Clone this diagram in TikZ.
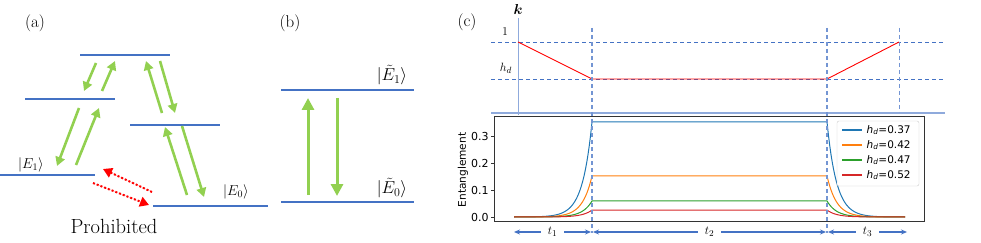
\documentclass[tikz,border=0pt]{standalone}
\usepackage{amsmath,amssymb}
\usepackage{fontspec}
\newfontfamily\plotfont{DejaVu Sans}
\usetikzlibrary{arrows.meta,positioning}
\definecolor{lvlblue}{RGB}{68,114,196}
\definecolor{paleblue}{RGB}{143,170,220}
\definecolor{arrgreen}{RGB}{146,208,80}
\definecolor{mplblue}{RGB}{31,119,180}
\definecolor{mplorange}{RGB}{255,127,14}
\definecolor{mplgreen}{RGB}{44,160,44}
\definecolor{mplred}{RGB}{214,39,40}
\tikzset{
	level/.style={draw=lvlblue, line width=1.4pt},
	greenarr/.style={-{Triangle[length=9pt, width=9.5pt]}, draw=arrgreen, fill=arrgreen, line width=2.6pt},
	bigarr/.style={-{Triangle[length=12pt, width=12pt]}, draw=arrgreen, fill=arrgreen, line width=3pt},
	redarr/.style={-{Triangle[length=9pt, width=10pt]}, draw=red, fill=red, line width=2pt, dash pattern=on 2pt off 2pt},
	panel/.style={font=\fontsize{17}{17}\selectfont, inner sep=0pt},
	statelbl/.style={font=\fontsize{14.5}{14.5}\selectfont, inner sep=0pt},
	bigstate/.style={font=\fontsize{17}{17}\selectfont, inner sep=0pt},
	guide/.style={draw=lvlblue, line width=0.9pt, dash pattern=on 4pt off 3pt},
	vguide/.style={draw=lvlblue!75, line width=1.3pt, dash pattern=on 4pt off 3pt},
	ticklbl/.style={font=\plotfont\fontsize{11}{11}\selectfont, text=black, inner sep=1.5pt},
	legtxt/.style={font=\plotfont\fontsize{10.5}{10.5}\selectfont, text=black, inner sep=4pt},
	tarr/.style={{Stealth[length=6pt, width=5pt]}-{Stealth[length=6pt, width=5pt]}, draw=lvlblue, line width=1.1pt},
	tlbl/.style={font=\fontsize{13}{13}\selectfont, fill=white, inner xsep=7pt, inner ysep=1pt}
}

\begin{document}
\begin{tikzpicture}[x=1pt, y=-1pt]
	\useasboundingbox (0,0) rectangle (981,243);
	% (a) ladder of levels
	\node[panel] (pa) at (35,23) {(a)};
	\draw[level] (80,55) -- (170,55);
	\draw[level] (25,99) -- (115,99);
	\draw[level] (130,125) -- (220,125);
	\draw[level] (0,175) -- (95,175);
	\draw[level] (153,206) -- (268,206);
	\node[statelbl] (e1) at (31,165) {$|E_1\rangle$};
	\node[statelbl] (e0) at (236,192) {$|E_0\rangle$};
	\coordinate (a1) at (96,63);   \coordinate (a2) at (84,91);
	\coordinate (a3) at (102,91);  \coordinate (a4) at (115,61);
	\coordinate (a5) at (79,108);  \coordinate (a6) at (57,166);
	\coordinate (a7) at (76,165);  \coordinate (a8) at (99,108);
	\coordinate (a9) at (162,113); \coordinate (a10) at (146,61);
	\coordinate (a11) at (160,61); \coordinate (a12) at (175,113);
	\coordinate (a13) at (187,195);\coordinate (a14) at (165,127);
	\coordinate (a15) at (182,126);\coordinate (a16) at (204,197);
	\draw[greenarr] (a1) -- (a2);
	\draw[greenarr] (a3) -- (a4);
	\draw[greenarr] (a5) -- (a6);
	\draw[greenarr] (a7) -- (a8);
	\draw[greenarr] (a9) -- (a10);
	\draw[greenarr] (a11) -- (a12);
	\draw[greenarr] (a13) -- (a14);
	\draw[greenarr] (a15) -- (a16);
	% forbidden path
	\coordinate (r1) at (152,192); \coordinate (r2) at (103,169);
	\coordinate (r3) at (93,183);  \coordinate (r4) at (149,205);
	\draw[redarr] (r1) -- (r2);
	\draw[redarr] (r3) -- (r4);
	\node[font=\fontsize{20.5}{20.5}\selectfont, anchor=base, inner sep=0pt] (proh) at (114,233) {Prohibited};

	% (b) two levels
	\node[panel] (pb) at (290,23) {(b)};
	\draw[level, line width=1.6pt] (281,90) -- (414,90);
	\draw[level, line width=1.6pt] (281,202) -- (414,202);
	\node[bigstate] (te1) at (392,75) {$|\tilde{E}_1\rangle$};
	\node[bigstate] (te0) at (392,188) {$|\tilde{E}_0\rangle$};
	\coordinate (b1) at (308,195); \coordinate (b2) at (308,98);
	\coordinate (b3) at (337,98);  \coordinate (b4) at (337,196);
	\draw[bigarr] (b1) -- (b2);
	\draw[bigarr] (b3) -- (b4);

	% (c) schedule of k
	\node[panel] (pc) at (467,22) {(c)};
	\node[font=\fontsize{15}{15}\selectfont, inner sep=0pt] (klbl) at (518,10) {$\boldsymbol{k}$};
	\draw[paleblue, line width=1pt] (518,18) -- (518,115);
	\draw[guide] (491,42) -- (945,42);
	\draw[guide] (491,79) -- (945,79);
	\node[font=\fontsize{13}{13}\selectfont, inner sep=0pt] (one) at (505,32) {$1$};
	\node[font=\fontsize{13}{13}\selectfont, inner sep=0pt] (hd) at (506,68) {$h_d$};
	\draw[red, line width=0.9pt] (518,42) -- (592,79) -- (827,79) -- (899,42);
	\draw[paleblue, line width=1.2pt] (491,113) -- (945,113);

	% entanglement curves
	\draw[black!80, line width=0.8pt] (494,116) rectangle (924,221);
	\foreach \col/\pk in {mplblue/0.356, mplorange/0.154, mplgreen/0.060, mplred/0.026}{
		\draw[\col, line width=1pt]
			plot[domain=514:592, samples=60] (\x,{217-267*\pk*exp((\x-592)/9.5)})
			-- (827,{217-267*\pk})
			-- plot[domain=827:905, samples=60] (\x,{217-267*\pk*exp(-(\x-827)/9.5)});
	}
	\foreach \v/\n in {0.0/0, 0.1/1, 0.2/2, 0.3/3}{
		\draw[black!80, line width=0.8pt] (494,{217-267*\v}) -- ++(-3.5,0)
			node[left, ticklbl] (tick\n) {\v};
	}
	\node[font=\plotfont\fontsize{10.6}{10.6}\selectfont, rotate=90, inner sep=0pt] (ylab) at (463,170) {Entanglement};
	\node[draw=black!20, rounded corners=2pt, fill=white, minimum width=82pt, minimum height=65pt, inner sep=0pt] (legend) at (878,153.5) {};
	\foreach \col/\val [count=\i] in {mplblue/0.37, mplorange/0.42, mplgreen/0.47, mplred/0.52}{
		\draw[\col, line width=1.2pt] (842,{115+15*\i}) -- (862,{115+15*\i})
			node[right, legtxt] (leg\i) {\textit{h}\textsubscript{\textit{d}}=\val};
	}
	\draw[vguide] (592,28) -- (592,233);
	\draw[vguide] (827,28) -- (827,233);
	\draw[vguide, line width=0.9pt] (899,28) -- (899,112);

	% time intervals
	\coordinate (t1l) at (514,232); \coordinate (t1r) at (591,232);
	\coordinate (t2l) at (593,232); \coordinate (t2r) at (826,232);
	\coordinate (t3l) at (828,232); \coordinate (t3r) at (907,232);
	\draw[tarr] (t1l) -- node[tlbl] (lt1) {$t_1$} (t1r);
	\draw[tarr] (t2l) -- node[tlbl] (lt2) {$t_2$} (t2r);
	\draw[tarr] (t3l) -- node[tlbl] (lt3) {$t_3$} (t3r);
\end{tikzpicture}
\end{document}
